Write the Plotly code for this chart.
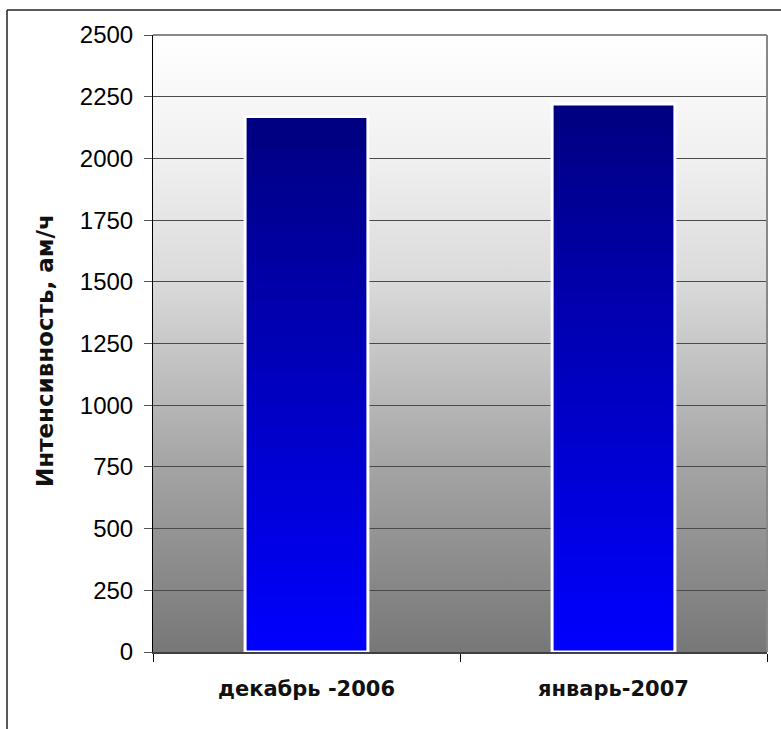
import base64
import plotly.graph_objects as go

# ---- data ----
categories = ["декабрь -2006", "январь-2007"]
values = [2170, 2220]
y_title = "Интенсивность, ам/ч"
y_max = 2500
y_step = 250

# ---- geometry / style ----
W, H = 781, 729
L, R, T, B = 153, 14, 35, 77
plot_w = W - L - R
plot_h = H - T - B
bar_half = 0.2

fig = go.Figure()

# background gradient (image below grid)
svg = (
    '<svg xmlns="http://www.w3.org/2000/svg" width="10" height="100" viewBox="0 0 10 100" '
    'preserveAspectRatio="none"><defs><linearGradient id="g" x1="0" y1="0" x2="0" y2="1">'
    '<stop offset="0" stop-color="#ffffff"/>'
    '<stop offset="0.2" stop-color="#f0f0f0"/>'
    '<stop offset="0.4" stop-color="#dadada"/>'
    '<stop offset="0.7" stop-color="#a4a4a4"/>'
    '<stop offset="1" stop-color="#777777"/>'
    '</linearGradient></defs><rect width="10" height="100" fill="url(#g)"/></svg>'
)
src = "data:image/svg+xml;base64," + base64.b64encode(svg.encode()).decode()
fig.add_layout_image(dict(source=src, xref="paper", yref="paper", x=0, y=1,
                          sizex=1, sizey=1, sizing="stretch", layer="below",
                          xanchor="left", yanchor="top"))

for i, v in enumerate(values):
    c = i + 0.5
    fig.add_trace(go.Scatter(
        x=[c - bar_half, c - bar_half, c + bar_half, c + bar_half, c - bar_half],
        y=[0, v, v, 0, 0],
        mode="lines", fill="toself",
        line=dict(color="white", width=3),
        fillgradient=dict(type="vertical", colorscale=[[0, "#0000ff"], [1, "#000080"]]),
        hoverinfo="skip", showlegend=False,
    ))

fig.update_xaxes(
    range=[0, len(categories)], tickvals=[i + 0.5 for i in range(len(categories))],
    ticktext=categories, ticks="", showgrid=False, zeroline=False,
    showline=True, linecolor="#404040", linewidth=2,
    tickfont=dict(family="DejaVu Sans", size=21, color="#111", weight="bold"),
    ticklabelstandoff=17,
    minor=dict(tickvals=list(range(len(categories) + 1)), ticks="outside", ticklen=8,
               tickcolor="#000000", tickwidth=1, showgrid=False),
)
fig.update_yaxes(
    range=[0, y_max], tick0=0, dtick=y_step, ticks="outside", ticklen=8,
    tickcolor="#555555", showgrid=True, gridcolor="#4a4a4a", gridwidth=1,
    zeroline=False, showline=True, linecolor="#000000", linewidth=1,
    tickfont=dict(family="Liberation Sans", size=24, color="#000"),
    ticklabelstandoff=6,
)

# plot area border top/right
fig.add_shape(type="line", xref="paper", yref="paper", x0=0, x1=1, y0=1, y1=1,
              line=dict(color="#888888", width=2))
fig.add_shape(type="line", xref="paper", yref="paper", x0=1, x1=1, y0=0, y1=1,
              line=dict(color="#888888", width=2))

# outer frame (top and left)
fx = (7 - L) / plot_w
fy = (H - B - 10) / plot_h
fig.add_shape(type="line", xref="paper", yref="paper", x0=fx, x1=2, y0=fy, y1=fy,
              line=dict(color="#222222", width=1.5))
fig.add_shape(type="line", xref="paper", yref="paper", x0=fx, x1=fx, y0=-1, y1=fy,
              line=dict(color="#222222", width=1.5))

fig.add_annotation(text=y_title, xref="paper", yref="paper",
                   x=(45 - L) / plot_w, y=(H - B - 351) / plot_h, textangle=-90,
                   showarrow=False, xanchor="center", yanchor="middle",
                   font=dict(family="DejaVu Sans", size=23, color="#111", weight="bold"))

fig.update_layout(
    width=W, height=H, margin=dict(l=L, r=R, t=T, b=B),
    paper_bgcolor="white", plot_bgcolor="rgba(0,0,0,0)",
    showlegend=False,
)

fig.write_html("out.html")
